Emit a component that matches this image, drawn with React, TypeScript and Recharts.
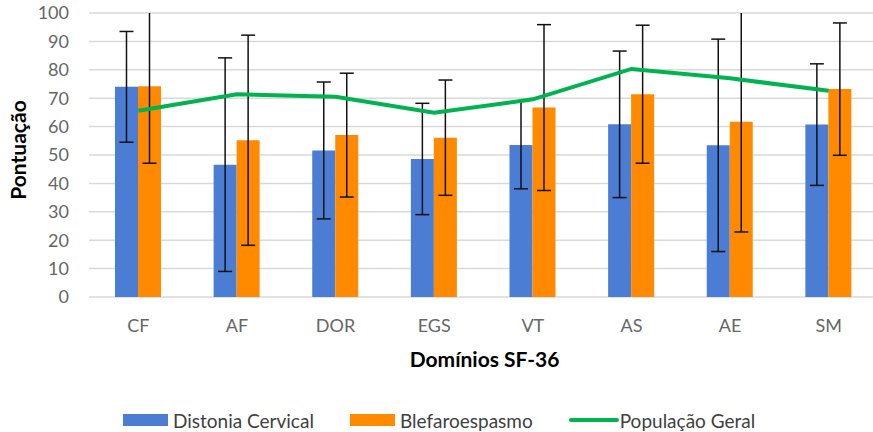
import React from "react";
import {
  ComposedChart,
  Bar,
  Line,
  XAxis,
  YAxis,
  CartesianGrid,
  ErrorBar,
  Legend,
  Label,
} from "recharts";

const dominios = ["CF", "AF", "DOR", "EGS", "VT", "AS", "AE", "SM"];
const distoniaCervical = [74.0, 46.6, 51.6, 48.6, 53.5, 60.8, 53.4, 60.7];
const distoniaDp = [19.5, 37.6, 24.1, 19.6, 15.4, 25.8, 37.4, 21.4];
const blefaroespasmo = [74.2, 55.2, 57.0, 56.1, 66.7, 71.4, 61.7, 73.2];
const blefaroDp = [27.1, 37.0, 21.8, 20.3, 29.2, 24.3, 38.8, 23.3];
const populacaoGeral = [65.6, 71.4, 70.5, 64.9, 69.6, 80.3, 77.0, 72.6];
const yTicks = [0, 10, 20, 30, 40, 50, 60, 70, 80, 90, 100];
const seriesNames = ["Distonia Cervical", "Blefaroespasmo", "População Geral"];

const data = dominios.map((d, i) => ({
  dominio: d,
  dc: distoniaCervical[i],
  dcErr: distoniaDp[i],
  be: blefaroespasmo[i],
  beErr: blefaroDp[i],
  pg: populacaoGeral[i],
}));

const FONT = "Lato, 'Open Sans', sans-serif";
const BLUE = "#4A7DD3";
const ORANGE = "#FF8A00";
const GREEN = "#00B350";

// plot area box, used to clip error bars that run past 100
const PLOT = { x: 89, y: 13, w: 789, h: 284 };

function LegendContent(props: any) {
  const items = [...(props.payload || [])].sort(
    (a: any, b: any) => seriesNames.indexOf(a.value) - seriesNames.indexOf(b.value)
  );
  return (
    <div
      style={{
        display: "flex",
        alignItems: "center",
        height: 24,
        marginLeft: 123,
        fontFamily: FONT,
        fontSize: 19,
        color: "#404040",
        whiteSpace: "nowrap",
      }}
    >
      {items.map((entry: any) => (
        <div
          key={entry.value}
          style={{ display: "flex", alignItems: "center", marginRight: 36 }}
        >
          {entry.type === "line" ? (
            <span
              style={{
                width: 50,
                height: 4,
                borderRadius: 2,
                background: entry.color,
                marginRight: 1,
              }}
            />
          ) : (
            <span
              style={{
                width: 45,
                height: 12,
                background: entry.color,
                marginRight: 5,
              }}
            />
          )}
          <span>{entry.value}</span>
        </div>
      ))}
    </div>
  );
}

export default function App() {
  return (
    <div
      style={{
        position: "fixed",
        left: 0,
        top: 0,
        width: 873,
        height: 432,
        overflow: "hidden",
        background: "#fff",
      }}
    >
      <ComposedChart
        width={880}
        height={432}
        data={data}
        margin={{ top: 13, right: 2, left: 0, bottom: 0 }}
        barGap={0}
        barSize={23}
      >
        <defs>
          <clipPath id="plot-clip">
            <rect x={PLOT.x - 10} y={PLOT.y} width={PLOT.w + 20} height={PLOT.h + 10} />
          </clipPath>
        </defs>
        <CartesianGrid vertical={false} stroke="#d9d9d9" strokeWidth={1.5} />
        <XAxis
          dataKey="dominio"
          height={111}
          axisLine={false}
          tickLine={false}
          tickMargin={16}
          tick={{ fill: "#666", fontSize: 18, fontFamily: FONT }}
        >
          <Label
            content={(p: any) => {
              const vb = p.viewBox;
              return (
                <text
                  x={vb.x + vb.width / 2 + 1}
                  y={vb.y + 61}
                  textAnchor="middle"
                  dominantBaseline="central"
                  fontFamily={FONT}
                  fontWeight={700}
                  fontSize={21}
                  fill="#000"
                >
                  Domínios SF-36
                </text>
              );
            }}
          />
        </XAxis>
        <YAxis
          width={89}
          domain={[0, 100]}
          ticks={yTicks}
          allowDataOverflow
          axisLine={false}
          tickLine={false}
          tickMargin={14}
          tick={{ fill: "#666", fontSize: 18, fontFamily: FONT }}
        >
          <Label
            content={(p: any) => {
              const vb = p.viewBox;
              const cx = vb.x + 17;
              const cy = 150;
              return (
                <text
                  x={cx}
                  y={cy}
                  transform={`rotate(-90 ${cx} ${cy})`}
                  textAnchor="middle"
                  dominantBaseline="central"
                  fontFamily={FONT}
                  fontWeight={700}
                  fontSize={21}
                  fill="#000"
                >
                  Pontuação
                </text>
              );
            }}
          />
        </YAxis>
        <Legend
          verticalAlign="bottom"
          height={24}
          wrapperStyle={{ left: 0, width: 880 }}
          content={LegendContent}
        />
        <Bar
          dataKey="dc"
          name="Distonia Cervical"
          fill={BLUE}
          isAnimationActive={false}
        >
          <ErrorBar
            dataKey="dcErr"
            width={7}
            stroke="#111"
            strokeWidth={1.5}
            clipPath="url(#plot-clip)"
          />
        </Bar>
        <Bar
          dataKey="be"
          name="Blefaroespasmo"
          fill={ORANGE}
          isAnimationActive={false}
        >
          <ErrorBar
            dataKey="beErr"
            width={7}
            stroke="#111"
            strokeWidth={1.5}
            clipPath="url(#plot-clip)"
          />
        </Bar>
        <Line
          dataKey="pg"
          name="População Geral"
          type="linear"
          stroke={GREEN}
          strokeWidth={4}
          dot={false}
          activeDot={false}
          legendType="line"
          isAnimationActive={false}
        />
      </ComposedChart>
    </div>
  );
}
